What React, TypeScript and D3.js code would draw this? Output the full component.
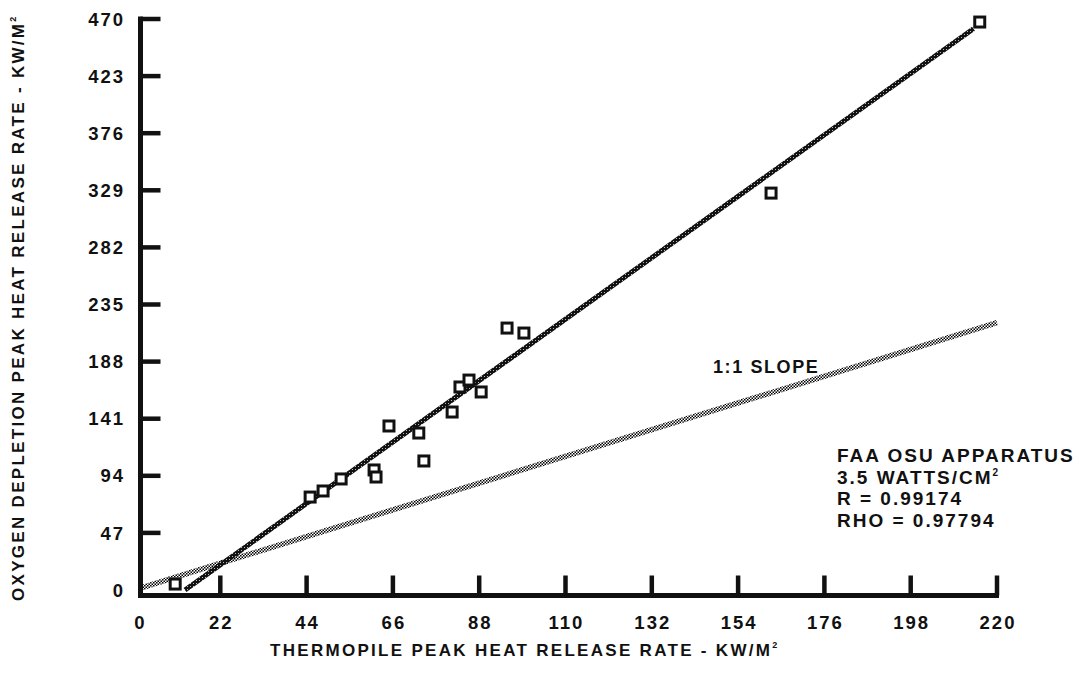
import React from "react";
import * as d3 from "d3";

// ---- data ----
const xTicks = [0, 22, 44, 66, 88, 110, 132, 154, 176, 198, 220];
const yTicks = [0, 47, 94, 141, 188, 235, 282, 329, 376, 423, 470];

// Thermopile peak HRR (x) vs oxygen depletion peak HRR (y), kW/m²
const thermopile = [10.5, 44.9, 48.2, 52.8, 61.2, 61.7, 65.0, 72.6, 73.9, 81.1, 83.1, 85.4, 88.5, 95.1, 99.4, 162.4, 215.6];
const oxygen = [4.9, 76.5, 81.5, 91.4, 98.8, 93.0, 135.0, 129.2, 106.2, 146.5, 167.1, 172.8, 163.0, 215.6, 211.5, 326.7, 467.5];

// regression line end points
const fitX = [13, 214];
const fitY = [0, 462];
// 1:1 slope line
const slopeX = [0, 220];
const slopeY = [0, 220];

const annotation = ["FAA OSU APPARATUS", "3.5 WATTS/CM", "R = 0.99174", "RHO = 0.97794"];

const W = 1081;
const H = 689;
const FONT = "'Liberation Sans', Arial, Helvetica, sans-serif";

export default function App() {
  const x = d3.scaleLinear().domain([0, 220]).range([134, 997]);
  const y = d3.scaleLinear().domain([0, 470]).range([590, 19]);
  const axisX = 140.5;
  const axisY = 595.5;

  const line = d3
    .line<[number, number]>()
    .x((d) => x(d[0]))
    .y((d) => y(d[1]));

  const fitPts: [number, number][] = fitX.map((v, i) => [v, fitY[i]]);
  const slopePts: [number, number][] = slopeX.map((v, i) => [v, slopeY[i]]);

  const textStyle: React.CSSProperties = {
    fontFamily: FONT,
    fontWeight: 700,
    fill: "#111",
  };

  return (
    <svg
      width={W}
      height={H}
      viewBox={`0 0 ${W} ${H}`}
      style={{ position: "absolute", left: 0, top: 0, background: "#fff" }}
    >
      <defs>
        <pattern id="lightStipple" width="3" height="3" patternUnits="userSpaceOnUse">
          <rect width="3" height="3" fill="#fff" />
          <rect x="0" y="0" width="1.5" height="1.5" fill="#000" />
          <rect x="1.5" y="1.5" width="1.5" height="1.5" fill="#000" />
        </pattern>
        <pattern id="darkStipple" width="3" height="3" patternUnits="userSpaceOnUse">
          <rect width="3" height="3" fill="#111" />
          <rect x="1" y="1" width="1" height="1" fill="#bbb" />
        </pattern>
        <clipPath id="plotClip">
          <rect x={axisX + 2} y={0} width={W} height={axisY - 2} />
        </clipPath>
      </defs>
      <rect width={W} height={H} fill="#fff" />

      <g clipPath="url(#plotClip)">
        {/* 1:1 slope line */}
        <path d={line(slopePts) || ""} stroke="url(#lightStipple)" strokeWidth={5.5} fill="none" />
        {/* regression line */}
        <path d={line(fitPts) || ""} stroke="url(#darkStipple)" strokeWidth={5} fill="none" />
      </g>

      {/* axes */}
      <line x1={axisX} x2={axisX} y1={y(470) - 2.5} y2={axisY + 2.5} stroke="#111" strokeWidth={5} />
      <line x1={axisX - 2.5} x2={x(220) + 2} y1={axisY} y2={axisY} stroke="#111" strokeWidth={5} />

      {yTicks.map((t) => (
        <g key={"y" + t}>
          {t > 0 && (
            <line x1={axisX} x2={axisX + 20} y1={y(t)} y2={y(t)} stroke="#111" strokeWidth={4.5} />
          )}
          <text
            x={125}
            y={y(t)}
            dy="0.36em"
            textAnchor="end"
            fontSize={18.5}
            letterSpacing={2}
            style={textStyle}
          >
            {t}
          </text>
        </g>
      ))}

      {xTicks.map((t) => (
        <g key={"x" + t}>
          {t > 0 && (
            <line x1={x(t)} x2={x(t)} y1={axisY} y2={axisY - 20} stroke="#111" strokeWidth={4.5} />
          )}
          <text
            x={t === 0 ? axisX : x(t) + 1}
            y={629}
            textAnchor="middle"
            fontSize={18.5}
            letterSpacing={2}
            style={textStyle}
          >
            {t}
          </text>
        </g>
      ))}

      {/* data points */}
      {thermopile.map((v, i) => (
        <rect
          key={"p" + i}
          x={x(v) - 5}
          y={y(oxygen[i]) - 5}
          width={10}
          height={10}
          fill="#fff"
          stroke="#111"
          strokeWidth={3}
        />
      ))}

      {/* axis titles */}
      <text x={270} y={656} fontSize={17} letterSpacing={2.3} style={textStyle}>
        THERMOPILE PEAK HEAT RELEASE RATE - KW/M
        <tspan fontSize={9} dy={-8}>2</tspan>
      </text>
      <text
        transform={`translate(24, 601) rotate(-90)`}
        fontSize={17}
        letterSpacing={2.3}
        style={textStyle}
      >
        OXYGEN DEPLETION PEAK HEAT RELEASE RATE - KW/M
        <tspan fontSize={9} dy={-8}>2</tspan>
      </text>

      {/* annotations */}
      <text x={713} y={373} fontSize={18} letterSpacing={1.6} style={textStyle}>
        1:1 SLOPE
      </text>
      {annotation.map((s, i) => (
        <text
          key={"a" + i}
          x={837}
          y={462 + i * 21.5}
          fontSize={19}
          letterSpacing={2}
          style={textStyle}
        >
          {s}
          {i === 1 && (
            <tspan fontSize={10} dy={-8}>
              2
            </tspan>
          )}
        </text>
      ))}
    </svg>
  );
}
